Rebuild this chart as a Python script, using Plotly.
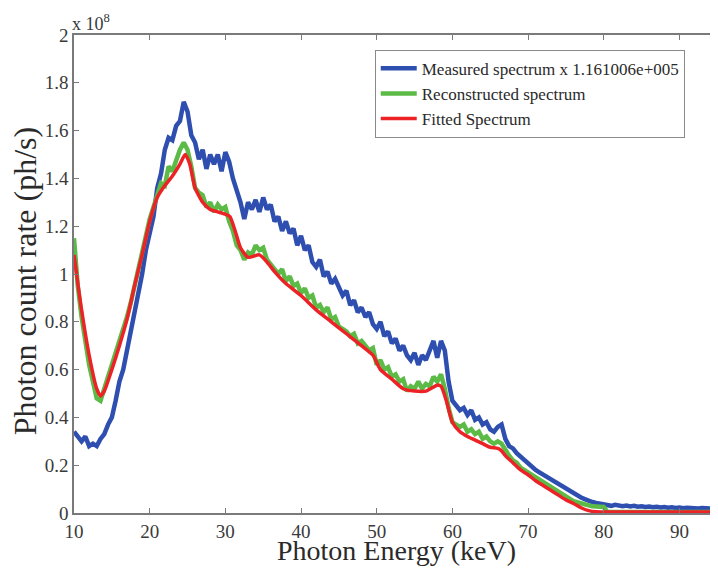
import plotly.graph_objects as go

# energy grid (keV) for the measured / reconstructed spectra, 0.5 keV bins
energy = [
    10.0, 10.5, 11.0, 11.5, 12.0, 12.5, 13.0, 13.5, 14.0, 14.5,
    15.0, 15.5, 16.0, 16.5, 17.0, 17.5, 18.0, 18.5, 19.0, 19.5,
    20.0, 20.5, 21.0, 21.5, 22.0, 22.5, 23.0, 23.5, 24.0, 24.5,
    25.0, 25.5, 26.0, 26.5, 27.0, 27.5, 28.0, 28.5, 29.0, 29.5,
    30.0, 30.5, 31.0, 31.5, 32.0, 32.5, 33.0, 33.5, 34.0, 34.5,
    35.0, 35.5, 36.0, 36.5, 37.0, 37.5, 38.0, 38.5, 39.0, 39.5,
    40.0, 40.5, 41.0, 41.5, 42.0, 42.5, 43.0, 43.5, 44.0, 44.5,
    45.0, 45.5, 46.0, 46.5, 47.0, 47.5, 48.0, 48.5, 49.0, 49.5,
    50.0, 50.5, 51.0, 51.5, 52.0, 52.5, 53.0, 53.5, 54.0, 54.5,
    55.0, 55.5, 56.0, 56.5, 57.0, 57.5, 58.0, 58.5, 59.0, 59.5,
    60.0, 60.5, 61.0, 61.5, 62.0, 62.5, 63.0, 63.5, 64.0, 64.5,
    65.0, 65.5, 66.0, 66.5, 67.0, 67.5, 68.0, 68.5, 69.0, 69.5,
    70.0, 70.5, 71.0, 71.5, 72.0, 72.5, 73.0, 73.5, 74.0, 74.5,
    75.0, 75.5, 76.0, 76.5, 77.0, 77.5, 78.0, 78.5, 79.0, 79.5,
    80.0, 80.5, 81.0, 81.5, 82.0, 82.5, 83.0, 83.5, 84.0, 84.5,
    85.0, 85.5, 86.0, 86.5, 87.0, 87.5, 88.0, 88.5, 89.0, 89.5,
    90.0, 90.5, 91.0, 91.5, 92.0, 92.5, 93.0, 93.5, 94.0, 94.5,
    95.0,
]

# count rates in units of 1e8 ph/s
measured = [
    0.34, 0.32, 0.30, 0.32, 0.28, 0.29, 0.28, 0.31, 0.33, 0.37,
    0.40, 0.47, 0.55, 0.60, 0.68, 0.74, 0.84, 0.92, 1.00, 1.10,
    1.17, 1.24, 1.36, 1.42, 1.52, 1.57, 1.56, 1.62, 1.64, 1.72,
    1.68, 1.58, 1.55, 1.48, 1.52, 1.44, 1.50, 1.46, 1.50, 1.43,
    1.51, 1.47, 1.40, 1.35, 1.30, 1.23, 1.30, 1.27, 1.31, 1.26,
    1.32, 1.27, 1.29, 1.22, 1.24, 1.18, 1.22, 1.17, 1.19, 1.12,
    1.16, 1.10, 1.12, 1.05, 1.03, 1.06, 0.99, 1.01, 0.96, 0.98,
    0.94, 0.91, 0.93, 0.87, 0.89, 0.84, 0.86, 0.82, 0.84, 0.79,
    0.77, 0.80, 0.74, 0.76, 0.71, 0.73, 0.68, 0.70, 0.66, 0.64,
    0.67, 0.62, 0.66, 0.64, 0.68, 0.72, 0.65, 0.72, 0.68, 0.55,
    0.47, 0.45, 0.43, 0.44, 0.41, 0.43, 0.39, 0.40, 0.37, 0.38,
    0.35, 0.34, 0.36, 0.37, 0.31, 0.28, 0.27, 0.25, 0.235, 0.22,
    0.21, 0.19, 0.18, 0.17, 0.16, 0.15, 0.14, 0.135, 0.125, 0.11,
    0.10, 0.09, 0.085, 0.075, 0.065, 0.058, 0.05, 0.046, 0.042, 0.04,
    0.035, 0.032, 0.030, 0.034, 0.030, 0.028, 0.031, 0.027, 0.030, 0.026,
    0.028, 0.025, 0.027, 0.024, 0.026, 0.023, 0.025, 0.022, 0.024, 0.021,
    0.023, 0.020, 0.022, 0.020, 0.021, 0.019, 0.021, 0.019, 0.020, 0.018,
    0.019,
]

reconstructed = [
    1.15, 0.95, 0.82, 0.72, 0.62, 0.55, 0.48, 0.47, 0.52, 0.57,
    0.62, 0.66, 0.72, 0.76, 0.82, 0.88, 0.95, 1.03, 1.10, 1.17,
    1.23, 1.28, 1.33, 1.38, 1.37, 1.45, 1.43, 1.48, 1.52, 1.55,
    1.52, 1.45, 1.36, 1.34, 1.33, 1.28, 1.30, 1.26, 1.29, 1.27,
    1.28, 1.22, 1.18, 1.12, 1.10, 1.06, 1.09, 1.08, 1.12, 1.10,
    1.11, 1.06, 1.04, 1.02, 1.00, 1.02, 0.97, 0.99, 0.95, 0.96,
    0.92, 0.94, 0.90, 0.91, 0.86, 0.87, 0.84, 0.86, 0.81, 0.82,
    0.78, 0.77, 0.76, 0.74, 0.75, 0.71, 0.72, 0.70, 0.68, 0.69,
    0.62, 0.64, 0.60, 0.61, 0.57, 0.58, 0.55, 0.56, 0.51, 0.53,
    0.52, 0.55, 0.52, 0.54, 0.53, 0.57, 0.55, 0.58, 0.52, 0.44,
    0.38, 0.37, 0.36, 0.37, 0.34, 0.35, 0.33, 0.34, 0.31, 0.32,
    0.30, 0.29, 0.30, 0.29, 0.26, 0.24, 0.22, 0.21, 0.19, 0.18,
    0.17, 0.155, 0.145, 0.135, 0.125, 0.115, 0.105, 0.10, 0.09, 0.08,
    0.07, 0.06, 0.05, 0.045, 0.04, 0.035, 0.03, 0.028, 0.027, 0.026,
    0.025, 0.004, 0.004, 0.004, 0.004, 0.004, 0.004, 0.004, 0.004, 0.004,
    0.004, 0.004, 0.004, 0.004, 0.004, 0.004, 0.004, 0.004, 0.004, 0.004,
    0.004, 0.004, 0.004, 0.004, 0.004, 0.004, 0.004, 0.004, 0.004, 0.004,
    0.004,
]

# fitted spectrum (smooth)
fit_energy = [
    10, 11, 12, 13, 13.5, 14, 15, 16, 17, 18,
    19, 20, 21, 22, 23, 24, 24.7, 25.3, 26, 27,
    28, 29, 30, 30.6, 31.3, 32, 33, 34.5, 35.5, 36.5,
    38, 40, 42, 44, 46, 48, 49.5, 50.5, 52, 53.5,
    55, 56.5, 58, 58.5, 59.2, 60, 61, 62, 63, 64,
    65, 66, 66.5, 67, 68, 69, 70, 71, 72, 73,
    74, 75, 76, 77, 78, 79, 80, 85, 90, 95,
]
fitted = [
    1.08, 0.85, 0.66, 0.52, 0.49, 0.51, 0.60, 0.70, 0.81, 0.95,
    1.08, 1.22, 1.32, 1.37, 1.41, 1.46, 1.50, 1.46, 1.36, 1.30,
    1.27, 1.26, 1.25, 1.24, 1.18, 1.11, 1.07, 1.08, 1.05, 1.01,
    0.96, 0.91, 0.85, 0.80, 0.75, 0.70, 0.66, 0.60, 0.56, 0.52,
    0.51, 0.51, 0.535, 0.53, 0.47, 0.38, 0.34, 0.32, 0.305, 0.29,
    0.275, 0.27, 0.26, 0.24, 0.21, 0.18, 0.16, 0.135, 0.115, 0.095,
    0.075, 0.055, 0.04, 0.022, 0.01, 0.005, 0.004, 0.004, 0.004, 0.004,
]

x_ticks = [10, 20, 30, 40, 50, 60, 70, 80, 90]
y_ticks = [0, 0.2, 0.4, 0.6, 0.8, 1.0, 1.2, 1.4, 1.6, 1.8, 2.0]
y_tick_text = ["0", "0.2", "0.4", "0.6", "0.8", "1", "1.2", "1.4", "1.6", "1.8", "2"]

FONT = "Liberation Serif, Times New Roman, serif"
AXIS_COL = "#7a7a7a"
TEXT_COL = "#2a2a2a"

fig = go.Figure()
fig.add_trace(go.Scatter(
    x=energy, y=measured, mode="lines",
    name="Measured spectrum x 1.161006e+005",
    line=dict(color="#2f4fb0", width=4.5),
))
fig.add_trace(go.Scatter(
    x=energy, y=reconstructed, mode="lines",
    name="Reconstructed spectrum",
    line=dict(color="#5cba46", width=4.5),
))
fig.add_trace(go.Scatter(
    x=fit_energy, y=fitted, mode="lines",
    name="Fitted Spectrum",
    line=dict(color="#ec2226", width=3.5, shape="spline", smoothing=0.6),
))

# the page body adds an 8px offset, so the figure is 8px smaller each way
fig.update_layout(
    width=710, height=561,
    margin=dict(l=66, r=0, t=27, b=56),
    paper_bgcolor="white",
    plot_bgcolor="white",
    font=dict(family=FONT, color=TEXT_COL),
    showlegend=True,
    legend=dict(
        x=0.467, y=0.969, xanchor="left", yanchor="top",
        bgcolor="white", bordercolor="#8a8a8a", borderwidth=1,
        font=dict(family=FONT, size=17, color=TEXT_COL),
        itemwidth=36, tracegroupgap=0,
    ),
)
fig.update_xaxes(
    range=[10, 95.1], tickvals=x_ticks, automargin=False,
    showline=True, linecolor=AXIS_COL, linewidth=1.5, mirror="ticks",
    ticks="inside", ticklen=5, tickcolor=AXIS_COL,
    showgrid=False, zeroline=False,
    tickfont=dict(family=FONT, size=19, color="#3a3a3a"),
)
fig.update_yaxes(
    range=[0, 2], tickvals=y_ticks, ticktext=y_tick_text, automargin=False,
    showline=True, linecolor=AXIS_COL, linewidth=1.5, mirror="ticks",
    ticks="inside", ticklen=5, tickcolor=AXIS_COL,
    showgrid=False, zeroline=False,
    tickfont=dict(family=FONT, size=19, color="#3a3a3a"),
)

# axis titles placed as annotations so they sit where the original has them
fig.add_annotation(
    x=0.5, y=-0.079, xref="paper", yref="paper",
    xanchor="center", yanchor="middle", showarrow=False,
    text="Photon Energy (keV)",
    font=dict(family=FONT, size=28, color=TEXT_COL),
)
fig.add_annotation(
    x=-0.076, y=0.485, xref="paper", yref="paper",
    xanchor="center", yanchor="middle", showarrow=False, textangle=-90,
    text="Photon count rate (ph/s)",
    font=dict(family=FONT, size=32, color=TEXT_COL),
)

# MATLAB style exponent label above the y axis
fig.add_annotation(
    x=0, y=1, xref="paper", yref="paper",
    xanchor="left", yanchor="bottom", yshift=-1, xshift=-4,
    text="x 10<sup>8</sup>", showarrow=False,
    font=dict(family=FONT, size=18, color="#3a3a3a"),
)

fig.write_html("out.html")
